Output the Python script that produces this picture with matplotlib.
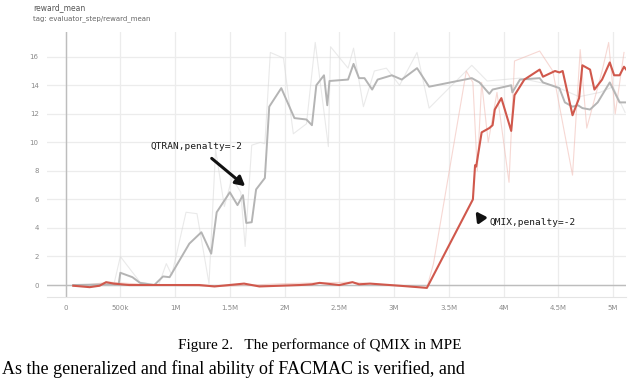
import matplotlib
matplotlib.use("Agg")
import matplotlib.pyplot as plt

# step values in millions
qtran_x = [0.07, 0.40, 0.485, 0.50, 0.61, 0.68, 0.81, 0.89, 0.95, 1.13, 1.24, 1.33, 1.38,
           1.50, 1.57, 1.62, 1.65, 1.70, 1.74, 1.82, 1.86, 1.97, 2.09, 2.20, 2.25, 2.29,
           2.36, 2.39, 2.41, 2.58, 2.63, 2.68, 2.73, 2.80, 2.85, 2.98, 3.07, 3.21, 3.32,
           3.71, 3.78, 3.87, 3.90, 4.07, 4.08, 4.15, 4.33, 4.36, 4.51, 4.56, 4.63, 4.68,
           4.72, 4.79, 4.86, 4.97, 5.06, 5.11]
qtran_y = [0.0, 0.05, 0.05, 0.86, 0.55, 0.15, 0.0, 0.6, 0.55, 2.9, 3.7, 2.2, 5.1,
           6.5, 5.6, 6.3, 4.35, 4.4, 6.7, 7.5, 12.5, 13.8, 11.7, 11.6, 11.2, 14.0,
           14.7, 12.6, 14.3, 14.4, 15.5, 14.5, 14.5, 13.7, 14.4, 14.7, 14.4, 15.2, 13.9,
           14.5, 14.2, 13.4, 13.7, 14.0, 13.5, 14.4, 14.5, 14.2, 13.8, 12.8, 12.5, 12.6,
           12.4, 12.3, 12.8, 14.2, 12.8, 12.8]

qtran_raw_x = [0.07, 0.44, 0.50, 0.60, 0.68, 0.85, 0.92, 0.97, 1.10, 1.20, 1.31, 1.37, 1.45,
               1.52, 1.60, 1.64, 1.70, 1.78, 1.82, 1.87, 1.99, 2.08, 2.20, 2.28, 2.40, 2.42,
               2.58, 2.63, 2.72, 2.82, 2.93, 3.05, 3.21, 3.32, 3.71, 3.85, 4.15, 4.45, 4.69,
               4.88, 5.00, 5.11]
qtran_raw_y = [0.0, 0.0, 2.0, 1.0, 0.2, 0.0, 1.5, 0.7, 5.1, 5.0, 0.1, 9.5, 5.5,
               7.5, 6.5, 2.7, 9.8, 10.0, 9.9, 16.3, 15.9, 10.6, 11.3, 17.0, 9.7, 16.7,
               15.2, 16.6, 12.5, 15.0, 15.2, 14.0, 16.3, 12.4, 15.4, 14.3, 14.5, 14.0, 13.2,
               13.5, 13.9, 12.1]

qmix_x = [0.07, 0.22, 0.31, 0.37, 0.44, 0.58, 1.22, 1.36, 1.63, 1.77, 2.14, 2.25, 2.32,
          2.50, 2.62, 2.68, 2.78, 3.05, 3.30, 3.72, 3.74, 3.75, 3.80, 3.87, 3.90, 3.92,
          3.98, 4.07, 4.10, 4.19, 4.33, 4.36, 4.47, 4.51, 4.54, 4.63, 4.69, 4.72, 4.79,
          4.83, 4.90, 4.97, 5.01, 5.06, 5.10, 5.12]
qmix_y = [-0.05, -0.15, -0.05, 0.2, 0.1, 0.0, 0.0, -0.1, 0.1, -0.1, 0.0, 0.05, 0.15,
          0.0, 0.2, 0.05, 0.1, -0.05, -0.2, 6.0, 8.4, 8.3, 10.7, 11.0, 11.2, 12.3,
          13.1, 10.8, 13.3, 14.4, 15.1, 14.6, 15.0, 14.9, 15.0, 11.9, 13.1, 15.4, 15.1,
          13.7, 14.4, 15.6, 14.7, 14.7, 15.3, 15.1]

qmix_raw_x = [0.07, 0.40, 0.80, 1.40, 2.00, 2.60, 3.30, 3.36, 3.66, 3.72, 3.76, 3.80, 3.86,
              3.94, 4.05, 4.10, 4.33, 4.45, 4.63, 4.70, 4.76, 4.90, 4.96, 5.02, 5.10]
qmix_raw_y = [-0.1, 0.2, 0.0, -0.1, 0.1, 0.2, -0.2, 1.5, 15.0, 14.2, 8.0, 14.2, 10.0,
              13.5, 7.2, 15.7, 16.4, 15.0, 7.7, 16.5, 11.0, 15.0, 17.0, 12.0, 16.3]

x_ticks = [0, 0.5, 1, 1.5, 2, 2.5, 3, 3.5, 4, 4.5, 5]
x_labels = ["0", "500k", "1M", "1.5M", "2M", "2.5M", "3M", "3.5M", "4M", "4.5M", "5M"]
y_ticks = [0, 2, 4, 6, 8, 10, 12, 14, 16]

GRAY = "#b4b4b4"
RED = "#d0584c"
tick_font = ["Liberation Sans Narrow", "DejaVu Sans"]
note_font = ["DejaVu Sans Mono"]

fig = plt.figure(figsize=(6.4, 3.8), dpi=100)
ax = fig.add_axes([0.0734, 0.2184, 0.905, 0.698])

ax.plot(qtran_raw_x, qtran_raw_y, color="#d8d8d8", lw=0.8, alpha=0.55, zorder=2)
ax.plot(qmix_raw_x, qmix_raw_y, color="#f0b8b0", lw=0.8, alpha=0.55, zorder=2)
ax.axhline(0, color="#bdbdbd", lw=1.0, zorder=1)
ax.axvline(0, color="#bdbdbd", lw=1.0, zorder=1)
ax.plot(qtran_x, qtran_y, color=GRAY, lw=1.4, zorder=3)
ax.plot(qmix_x, qmix_y, color=RED, lw=1.5, zorder=4)

ax.set_xlim(-0.17, 5.12)
ax.set_ylim(-0.84, 17.75)
ax.set_xticks(x_ticks)
ax.set_xticklabels(x_labels)
ax.set_yticks(y_ticks)
ax.grid(True, color="#ececec", lw=0.9)
ax.set_axisbelow(True)
for side in ["top", "right", "left"]:
    ax.spines[side].set_visible(False)
ax.spines["bottom"].set_color("#e4e4e4")
ax.tick_params(length=0, labelsize=5, labelcolor="#8a8a8a", pad=6)
for lab in ax.get_xticklabels() + ax.get_yticklabels():
    lab.set_family(tick_font)

# annotations drawn on the screenshot
ax.annotate("", xy=(1.66, 6.8), xytext=(1.315, 9.0),
            arrowprops=dict(arrowstyle="-|>,head_length=0.55,head_width=0.3",
                            color="#111111", lw=2.2))
ax.text(1.2, 9.7, "QTRAN,penalty=-2", ha="center", va="center", fontsize=6.8,
        family=note_font, color="#1a1a1a")
ax.annotate("", xy=(3.73, 5.33), xytext=(3.81, 4.45),
            arrowprops=dict(arrowstyle="-|>,head_length=0.55,head_width=0.3",
                            color="#111111", lw=2.2))
ax.text(3.87, 4.4, "QMIX,penalty=-2", ha="left", va="center", fontsize=6.8,
        family=note_font, color="#1a1a1a")

fig.text(33 / 640, 1 - 8 / 380, "reward_mean", fontsize=5.5, color="#555555",
         family=tick_font, va="center")
fig.text(33 / 640, 1 - 19 / 380, "tag: evaluator_step/reward_mean", fontsize=5,
         color="#666666", family=tick_font, va="center")

fig.text(0.5, 1 - 345 / 380, "Figure 2.   The performance of QMIX in MPE",
         ha="center", va="center", fontsize=11, family="Liberation Serif")
fig.text(0.003, 0.004, "As the generalized and final ability of FACMAC is verified, and",
         ha="left", va="bottom", fontsize=13, family="Liberation Serif")

fig.savefig("out.png", dpi=100)
